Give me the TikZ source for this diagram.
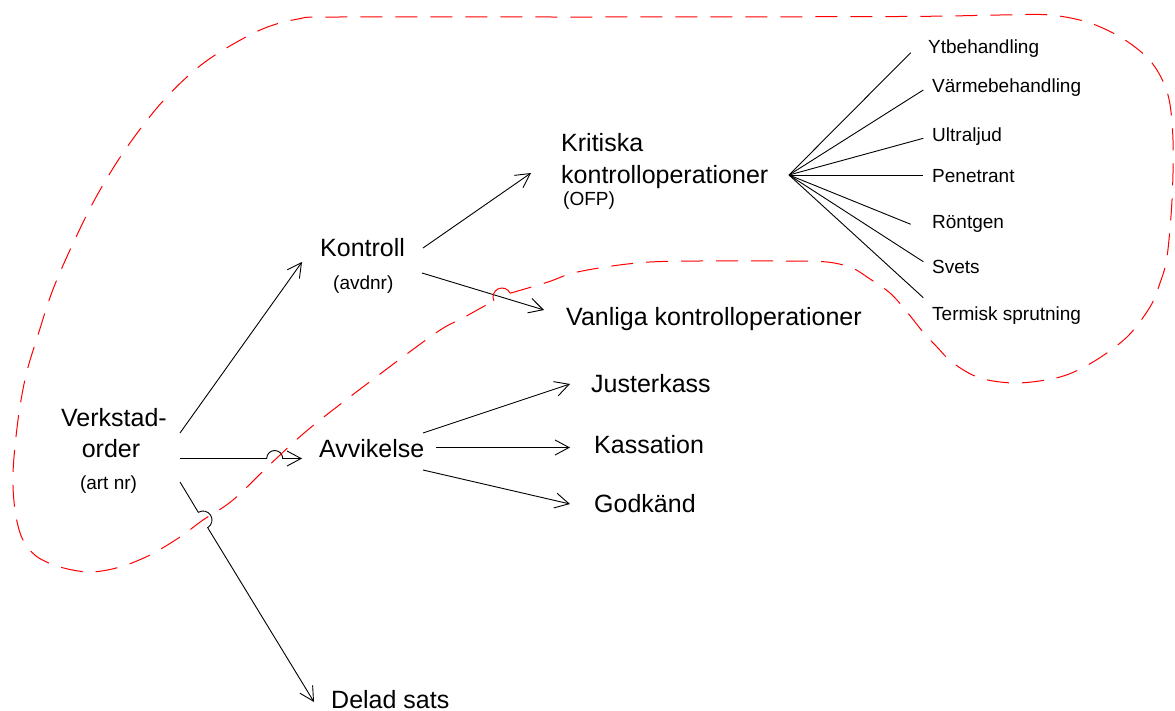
\documentclass[tikz,border=0pt]{standalone}
\usepackage{fontspec}
\setmainfont{Liberation Sans}
\usetikzlibrary{arrows.meta,calc}
\begin{document}
\begin{tikzpicture}[x=1pt,y=1pt,
  lbl/.style={inner sep=0pt, anchor=base west, font=\fontsize{25}{30}\selectfont},
  sub/.style={inner sep=0pt, anchor=base west, font=\fontsize{19}{23}\selectfont},
  arr/.style={line width=0.9pt, -{Straight Barb[length=14pt,width=15pt]}},
  ray/.style={line width=0.9pt},
  zone/.style={draw=red, line width=1pt, dash pattern=on 22pt off 13pt},
  hop/.style={draw=red, line width=1pt},
]
\useasboundingbox (0,0) rectangle (1175,-711);

% ---- labels ----
\node[lbl, anchor=base] (vo1) at (114,-426) {Verkstad-};
\node[lbl, anchor=base] (vo2) at (111,-457) {order};
\node[sub, anchor=base] (vo3) at (108.5,-489) {(art nr)};

\node[lbl] (kon) at (320,-257) {Kontroll};
\node[sub] (avd) at (333,-290) {(avdnr)};

\node[lbl] (kr1) at (561,-152) {Kritiska};
\node[lbl] (kr2) at (561,-184) {kontrolloperationer};
\node[sub] (ofp) at (563,-206) {(OFP)};

\node[lbl] (van) at (566,-325) {Vanliga kontrolloperationer};

\node[lbl] (avv) at (319,-457) {Avvikelse};
\node[lbl] (jus) at (591,-392) {Justerkass};
\node[lbl] (kas) at (594,-453) {Kassation};
\node[lbl] (god) at (594,-512) {Godkänd};
\node[lbl] (del) at (331,-708) {Delad sats};

\node[sub] (yt)  at (928,-53.5) {Ytbehandling};
\node[sub] (vb)  at (932,-92.5) {Värmebehandling};
\node[sub] (ul)  at (932,-141.5) {Ultraljud};
\node[sub] (pe)  at (932,-182.5) {Penetrant};
\node[sub] (ro)  at (932,-229) {Röntgen};
\node[sub] (sv)  at (932,-274) {Svets};
\node[sub] (te)  at (932,-320) {Termisk sprutning};

% ---- connector ends ----
\coordinate (vo-a) at (180,-433);
\coordinate (vo-b) at (180,-458.5);
\coordinate (vo-c) at (180,-482);
\coordinate (kon-in) at (302,-262);
\coordinate (avv-in) at (302,-458.5);
\coordinate (del-in) at (314,-702);
\coordinate (kon-a) at (423,-248);
\coordinate (kon-b) at (422,-273);
\coordinate (kr-in) at (531,-173);
\coordinate (van-in) at (544,-310);
\coordinate (avv-a) at (423,-433);
\coordinate (avv-b) at (436,-447.5);
\coordinate (avv-c) at (423,-470);
\coordinate (jus-in) at (570,-384);
\coordinate (kas-in) at (570,-447.5);
\coordinate (god-in) at (570,-504);
\coordinate (fan) at (789,-175);

% crossing points with the dashed boundary
\coordinate (x1) at (274.7,-458.5);
\coordinate (x2) at (203,-520);
\coordinate (x3) at (502,-297);

% ---- arrows ----
\draw[arr] (vo-a) -- (kon-in);
\draw[arr] (vo-b) -- ($(x1)+(-8,0)$) arc[start angle=180, end angle=0, radius=8] -- (avv-in);
\draw[arr] (vo-c) -- ($(x2)+(121.35:9)$) arc[start angle=121.35, end angle=-58.65, radius=9] -- (del-in);
\draw[arr] (kon-a) -- (kr-in);
\draw[arr] (kon-b) -- (van-in);
\draw[arr] (avv-a) -- (jus-in);
\draw[arr] (avv-b) -- (kas-in);
\draw[arr] (avv-c) -- (god-in);

% ---- fan of inspection methods ----
\draw[ray] (fan) -- (910.7,-52.7);
\draw[ray] (fan) -- (923.3,-90);
\draw[ray] (fan) -- (923.3,-138.3);
\draw[ray] (fan) -- (923.3,-175);
\draw[ray] (fan) -- (910.7,-224.3);
\draw[ray] (fan) -- (923.3,-261.7);
\draw[ray] (fan) -- (923.3,-297.7);

% ---- dashed boundary ----
\draw[zone] plot[smooth, tension=0.55] coordinates {
  (510.2,-293.2) (548,-282) (573,-273) (612,-266) (650,-262) (700,-261)
  (780,-261) (827,-262) (852,-268) (867,-277) (890,-293) (907,-312)
  (923,-332) (937,-347) (953,-363) (980,-378) (1017,-383) (1060,-377)
  (1093,-362) (1127,-337) (1150,-307) (1160,-283) (1167,-257) (1172,-200)
  (1173,-140) (1168,-95) (1152,-63) (1125,-40) (1090,-23) (1050,-15)
  (1000,-15) (900,-16.5) (600,-17) (340,-17) (298,-19) (258,-31)
  (205,-62) (163,-101) (125,-150) (95,-199) (70,-250) (52,-292)
  (38,-335) (26,-375) (18,-420) (13,-473) (15,-510) (22,-538) (36,-556)
  (60,-567) (90,-572) (120,-567) (150,-555) (180,-537) (203,-520)
  (233,-500) (274.7,-460) (320,-420) (430,-337) (463,-318) (493.8,-300.8)};
\draw[hop] ($(x3)+(205:9)$) arc[start angle=205, end angle=25, radius=9];
\end{tikzpicture}
\end{document}
